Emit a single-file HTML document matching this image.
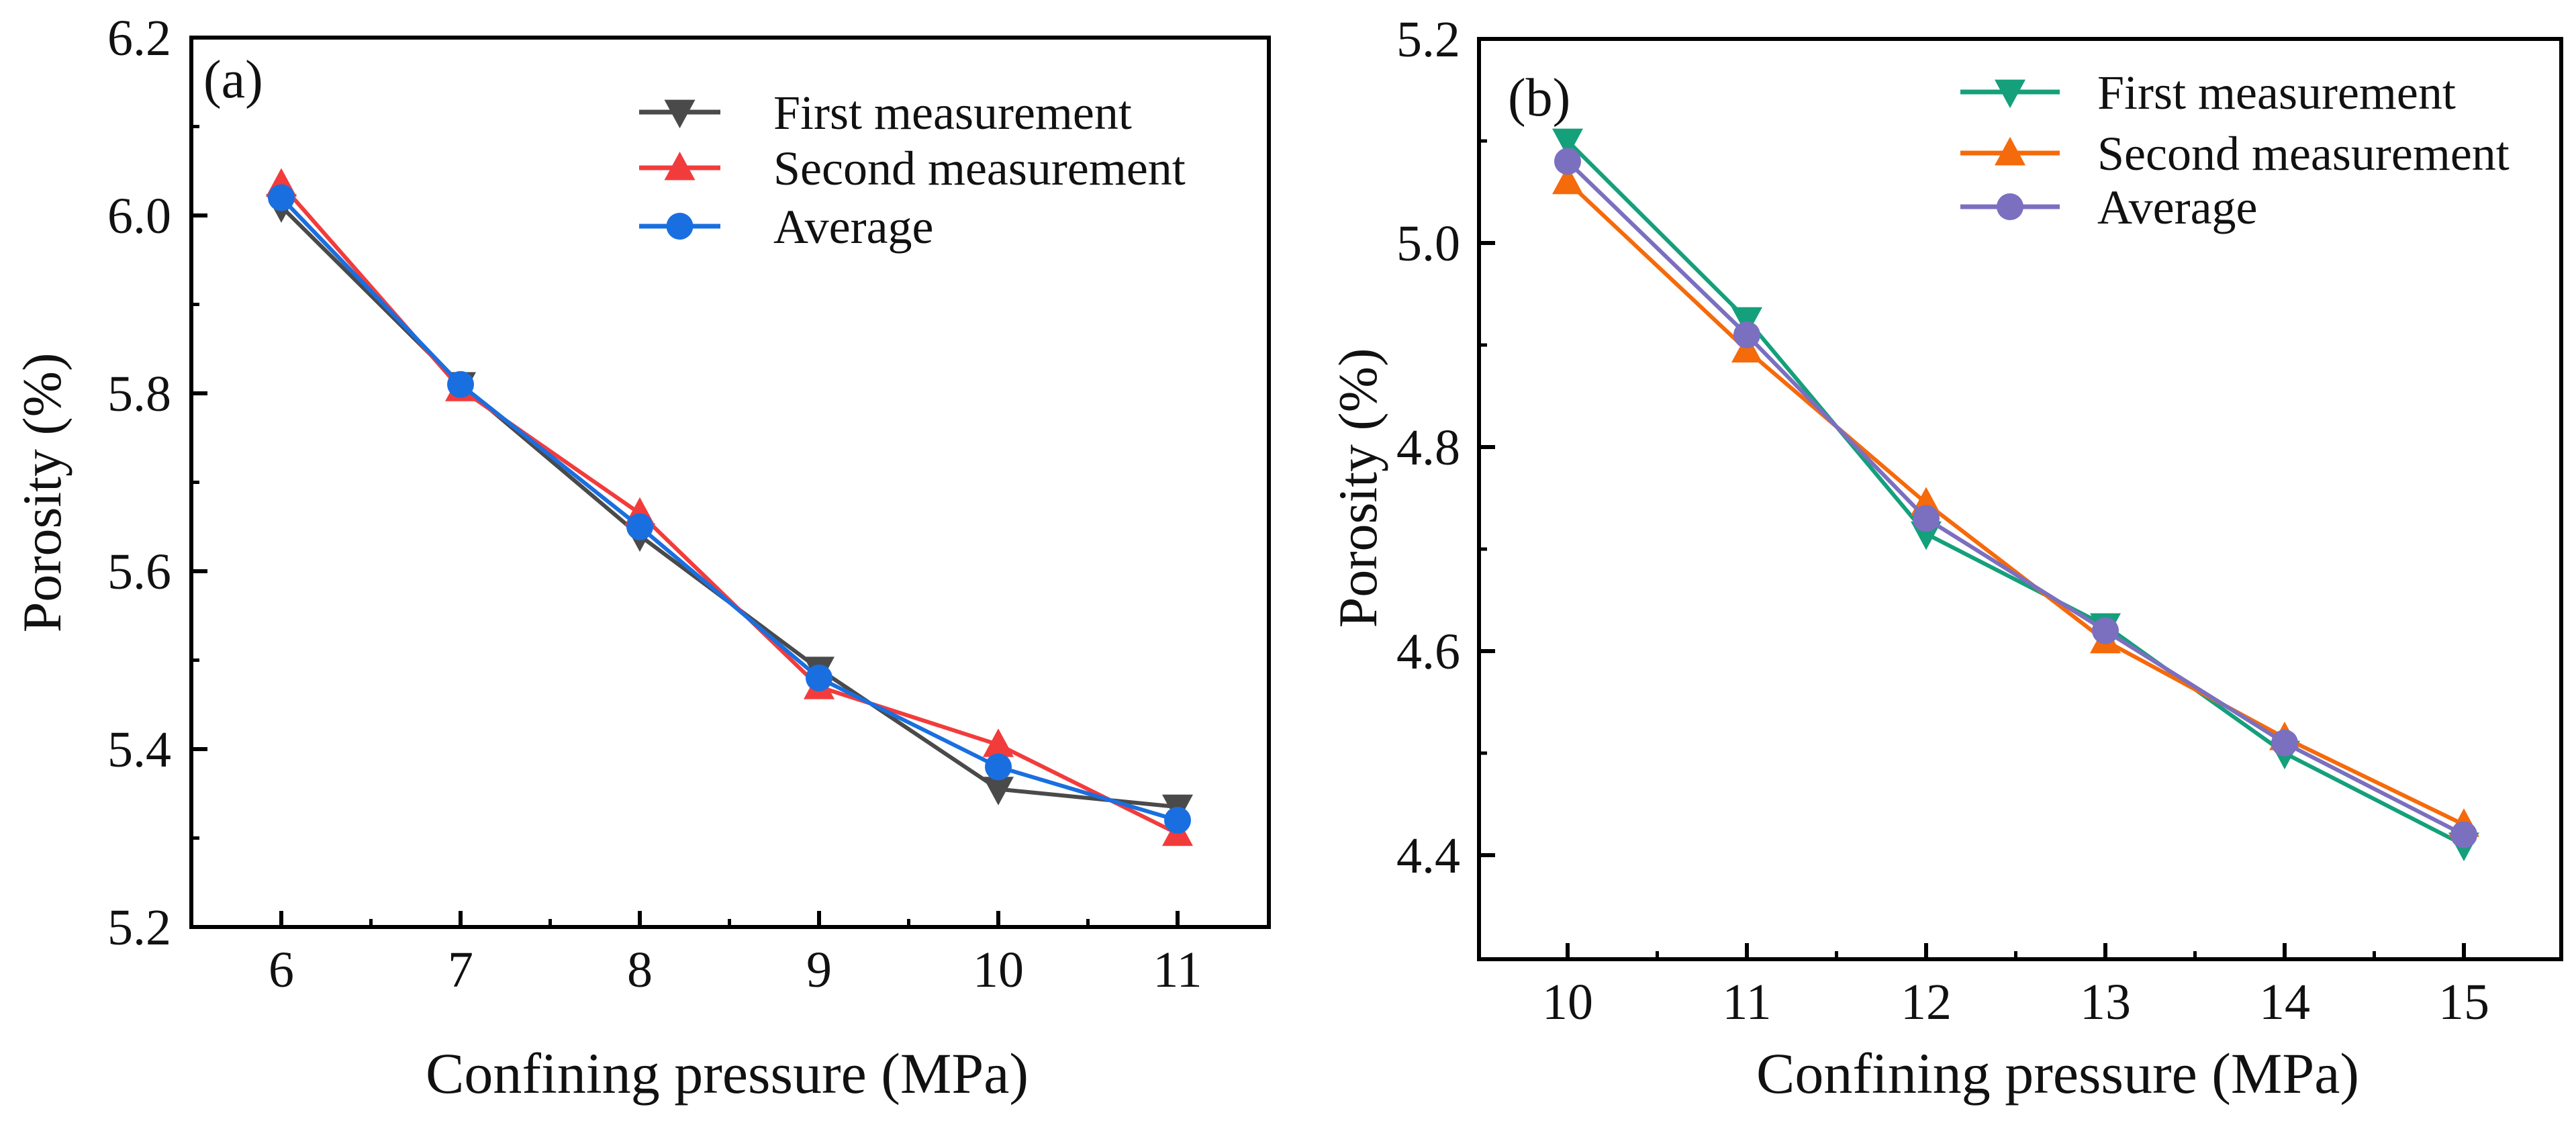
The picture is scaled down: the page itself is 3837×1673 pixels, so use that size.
<!DOCTYPE html>
<html><head><meta charset="utf-8">
<style>
html,body{margin:0;padding:0;background:#fff;}
svg{display:block;font-family:"Liberation Serif",serif;}
</style></head>
<body>
<svg id="chart" width="3837" height="1673" viewBox="0 0 3837 1673" xmlns="http://www.w3.org/2000/svg"></svg>
<script>
// ---- Panel (a) data ----
const aPressure = [6, 7, 8, 9, 10, 11];
const aFirst = [6.01, 5.81, 5.64, 5.49, 5.355, 5.335];
const aSecond = [6.035, 5.805, 5.665, 5.47, 5.405, 5.305];
const aAverage = [6.02, 5.81, 5.65, 5.48, 5.38, 5.32];
const aYTicks = ["5.2", "5.4", "5.6", "5.8", "6.0", "6.2"];
// ---- Panel (b) data ----
const bPressure = [10, 11, 12, 13, 14, 15];
const bFirst = [5.10, 4.925, 4.715, 4.625, 4.50, 4.41];
const bSecond = [5.06, 4.895, 4.745, 4.61, 4.515, 4.43];
const bAverage = [5.08, 4.91, 4.73, 4.62, 4.51, 4.42];
const bYTicks = ["4.4", "4.6", "4.8", "5.0", "5.2"];
const legendLabels = ["First measurement", "Second measurement", "Average"];

const NS = "http://www.w3.org/2000/svg";
const svg = document.getElementById("chart");
function mk(tag, attrs, parent) {
  const e = document.createElementNS(NS, tag);
  for (const k in attrs) e.setAttribute(k, attrs[k]);
  (parent || svg).appendChild(e);
  return e;
}

function marker(g, shape, x, y, color) {
  const s = 23;
  let el;
  if (shape === "down") {
    el = mk("polygon", {points: `${x-s},${y-s*0.8} ${x+s},${y-s*0.8} ${x},${y+s*1.05}`, fill: color}, g);
  } else if (shape === "up") {
    el = mk("polygon", {points: `${x-s},${y+s*0.8} ${x+s},${y+s*0.8} ${x},${y-s*1.05}`, fill: color}, g);
  } else {
    el = mk("circle", {cx: x, cy: y, r: 20, fill: color}, g);
  }
  return el;
}

function panel(cfg) {
  const g = mk("g", {});
  
  
  const X = v => cfg.x0 + (v - cfg.xv0) * cfg.xu;
  const Y = v => cfg.y0 + (cfg.yv0 - v) * cfg.yu;
  for (let i = 0; i < cfg.xcats.length; i++) {
    const xv = cfg.xcats[i];
    const t = mk("line", {x1: X(xv), x2: X(xv), y1: cfg.bottom, y2: cfg.bottom - 24, stroke: "#000", "stroke-width": 6}, g);
    
    
    const lbl = mk("text", {x: X(xv), y: cfg.xlabY, "font-size": 76, "text-anchor": "middle", fill: "#111"}, g);
    lbl.textContent = String(xv);
    
    
    if (i < cfg.xcats.length - 1) {
      mk("line", {x1: X(xv + 0.5), x2: X(xv + 0.5), y1: cfg.bottom, y2: cfg.bottom - 12, stroke: "#000", "stroke-width": 5}, g);
    }
  }
  for (let i = 0; i < cfg.yticks.length; i++) {
    const yv = parseFloat(cfg.yticks[i]);
    mk("line", {x1: cfg.left, x2: cfg.left + 24, y1: Y(yv), y2: Y(yv), stroke: "#000", "stroke-width": 6}, g);
    const lbl = mk("text", {x: cfg.ylabX, y: Y(yv) + 26, "font-size": 76, "text-anchor": "end", fill: "#111"}, g);
    lbl.textContent = cfg.yticks[i];
    
    
    const ym = yv - 0.1;
    if (Y(ym) < cfg.bottom - 5) mk("line", {x1: cfg.left, x2: cfg.left + 12, y1: Y(ym), y2: Y(ym), stroke: "#000", "stroke-width": 5}, g);
  }
  const fr = mk("rect", {x: cfg.left, y: cfg.top, width: cfg.right - cfg.left, height: cfg.bottom - cfg.top, fill: "none", stroke: "#000", "stroke-width": 6}, g);
  
  
  cfg.series.forEach((s) => {
    const sg = mk("g", {}, g);
    
    
    const pts = cfg.xcats.map((xv, i) => `${X(xv)},${Y(s.vals[i])}`).join(" ");
    mk("polyline", {points: pts, fill: "none", stroke: s.color, "stroke-width": 6}, sg);
    cfg.xcats.forEach((xv, i) => {
      const m = marker(sg, s.shape, X(xv), Y(s.vals[i]), s.color);
      
      
    });
  });
  const lg = mk("g", {}, g);
  
  
  cfg.series.forEach((s, i) => {
    const y = cfg.legRows[i];
    const e = mk("g", {}, lg);
    
    
    mk("line", {x1: cfg.legX1, x2: cfg.legX2, y1: y, y2: y, stroke: s.color, "stroke-width": 7}, e);
    marker(e, s.shape, (cfg.legX1 + cfg.legX2) / 2, y, s.color);
    const t = mk("text", {x: cfg.legTextX, y: y + 25, "font-size": 72, fill: "#111"}, e);
    t.textContent = legendLabels[i];
  });
  const pl = mk("text", {x: cfg.tagX, y: cfg.tagY, "font-size": 80, fill: "#111"}, g);
  pl.textContent = cfg.tag;
  
  
  const xt = mk("text", {x: cfg.xtX, y: cfg.xtY, "font-size": 86, "text-anchor": "middle", fill: "#111"}, g);
  xt.textContent = "Confining pressure (MPa)";
  
  
  const yt = mk("text", {x: 0, y: 0, "font-size": 82, "text-anchor": "middle", fill: "#111", transform: `translate(${cfg.ytX},${cfg.ytY}) rotate(-90)`}, g);
  yt.textContent = "Porosity (%)";
  
  
}

panel({
  name: "panel-a", tag: "(a)", xcats: aPressure, yticks: aYTicks,
  left: 285, right: 1890, top: 56, bottom: 1381,
  x0: 419, xv0: 6, xu: 267, y0: 56, yv0: 6.2, yu: 1325,
  xlabY: 1470, ylabX: 255,
  series: [
    {name: "series-first-measurement", vals: aFirst, color: "#4a4a4a", shape: "down"},
    {name: "series-second-measurement", vals: aSecond, color: "#f23c3c", shape: "up"},
    {name: "series-average", vals: aAverage, color: "#1a6fe0", shape: "circle"}
  ],
  legRows: [167, 250, 337], legX1: 952, legX2: 1073, legTextX: 1152,
  tagX: 303, tagY: 145, xtX: 1083, xtY: 1628, ytX: 90, ytY: 734
});

panel({
  name: "panel-b", tag: "(b)", xcats: bPressure, yticks: bYTicks,
  left: 2203, right: 3815, top: 58, bottom: 1429,
  x0: 2335, xv0: 10, xu: 267, y0: 58, yv0: 5.2, yu: 1520,
  xlabY: 1518, ylabX: 2175,
  series: [
    {name: "series-first-measurement", vals: bFirst, color: "#14a07a", shape: "down"},
    {name: "series-second-measurement", vals: bSecond, color: "#f56a0a", shape: "up"},
    {name: "series-average", vals: bAverage, color: "#7b6fc0", shape: "circle"}
  ],
  legRows: [137, 228, 308], legX1: 2920, legX2: 3068, legTextX: 3124,
  tagX: 2246, tagY: 172, xtX: 3065, xtY: 1628, ytX: 2050, ytY: 727
});
</script>
</body></html>
